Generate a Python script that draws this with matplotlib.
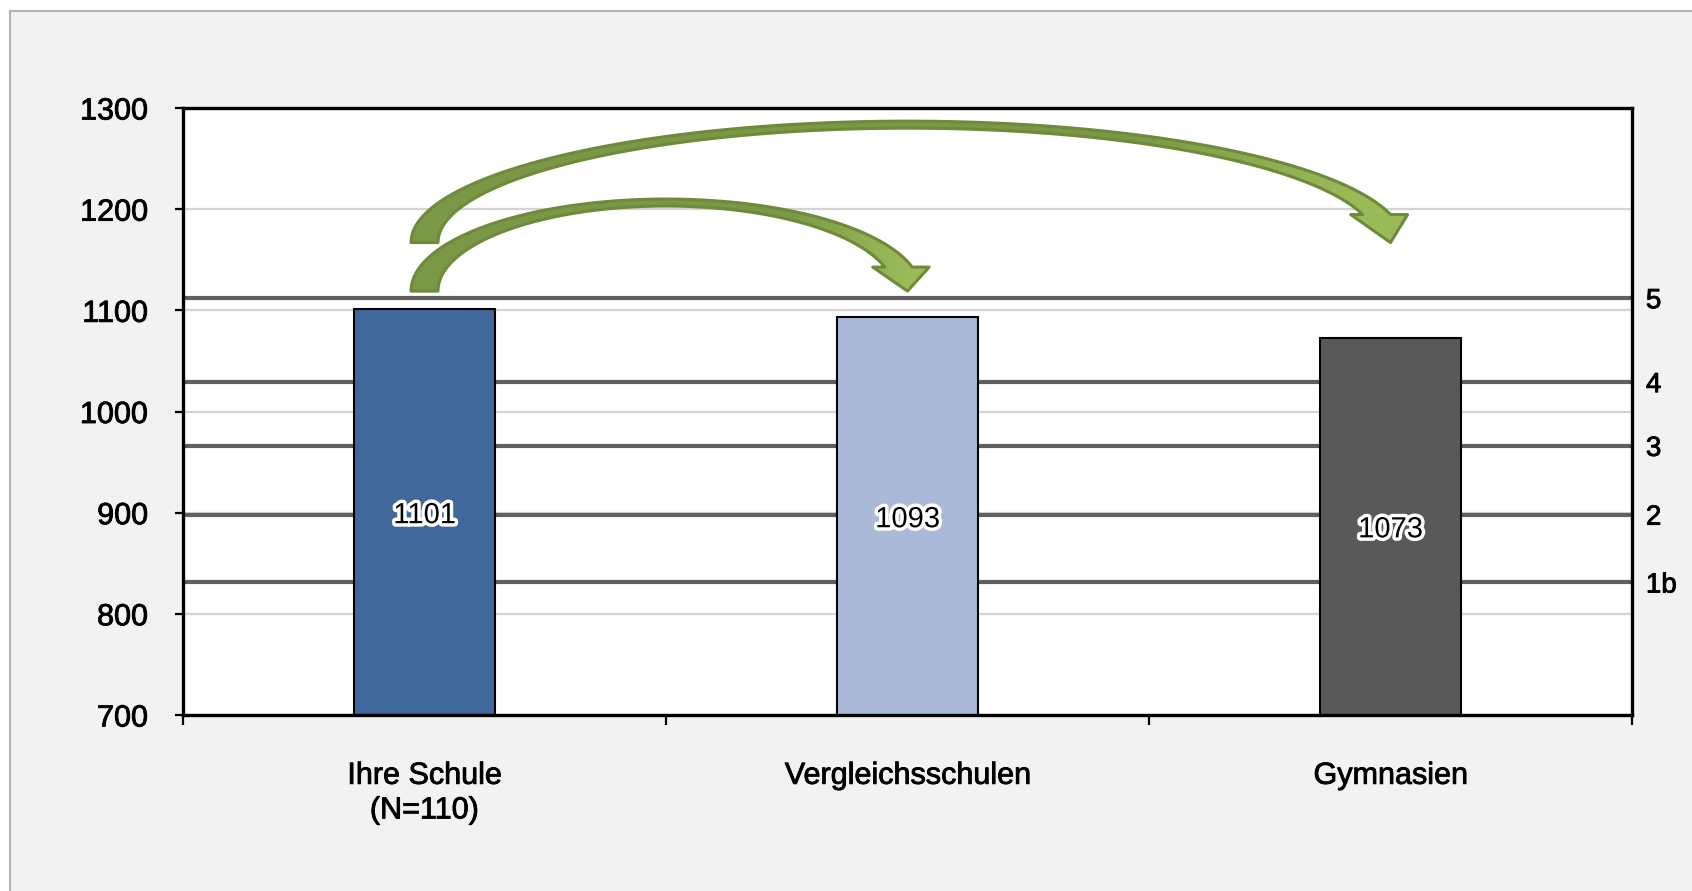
import matplotlib
matplotlib.use("Agg")
import numpy as np
import matplotlib.pyplot as plt
import matplotlib.patheffects as pe
from matplotlib.patches import Polygon, Rectangle
from matplotlib.colors import LinearSegmentedColormap

plt.rcParams['font.family'] = ['Liberation Sans', 'DejaVu Sans']

# Daten
categories = ['Ihre Schule\n(N=110)', 'Vergleichsschulen', 'Gymnasien']
scores = [1101, 1093, 1073]
bar_colors = ['#41689a', '#aab9d8', '#595959']

# Kompetenzstufen (rechte Achse)
level_names = ['1b', '2', '3', '4', '5']
level_limits = [831, 898, 966, 1029, 1112]

y_ticks = [700, 800, 900, 1000, 1100, 1200, 1300]

# Pfeile von "Ihre Schule" zu den Vergleichsgruppen
arrow_to = [2, 1]
arrow_base = [1167, 1119]
arrow_top = [1287, 1210]
arrow_head = [28, 24]

W, H = 1692, 891
fig = plt.figure(figsize=(W / 100, H / 100), dpi=100, facecolor='white')
# grauer Rahmen / Hintergrund
fig.patches.append(Rectangle((10 / W, -0.1), 1.2, 1.1 - 11 / H, transform=fig.transFigure,
                             facecolor='#f2f2f2', edgecolor='#b3b3b3', linewidth=1.5, zorder=-10))

ax = fig.add_axes([183 / W, 176 / H, (1632 - 183) / W, (715 - 108) / H])
ax.set_facecolor('white')

x = np.arange(len(categories))
ax.bar(x, scores, width=0.293, color=bar_colors, edgecolor='black', linewidth=1.5, zorder=3)

ax.set_xlim(-0.5, 2.5)
ax.set_ylim(700, 1300)

# Gitternetz und Stufengrenzen
ax.set_yticks(y_ticks)
ax.yaxis.grid(True, color='#d4d4d4', linewidth=1.6, zorder=0)
ax.set_axisbelow(True)
for v in level_limits:
    ax.axhline(v, color='#5f5f5f', linewidth=3, zorder=2)

# x-Achse: Striche an den Grenzen, Beschriftung in der Mitte
ax.set_xticks([-0.5, 0.5, 1.5, 2.5])
ax.set_xticklabels([])
ax.tick_params(axis='x', which='major', length=7, width=1.6, direction='out')
ax.set_xticks(x, minor=True)
ax.set_xticklabels(categories, minor=True)
ax.tick_params(axis='x', which='minor', length=0, pad=33, labelsize=22)
ax.tick_params(axis='y', length=6, width=1.6, pad=19, labelsize=22, direction='out')

for s in ax.spines.values():
    s.set_linewidth(2.4)
    s.set_color('black')
    s.set_zorder(4)

# Werte in den Balken
for i, v in enumerate(scores):
    ax.text(i, (700 + v) / 2 - 3, str(v), ha='center', va='center', fontsize=21, color='black',
            path_effects=[pe.withStroke(linewidth=5, foreground='white')], zorder=8)

# rechte Achse mit Stufen
ax2 = ax.twinx()
ax2.set_ylim(700, 1300)
ax2.set_yticks(level_limits)
ax2.set_yticklabels(level_names)
ax2.tick_params(axis='y', length=0, pad=10, labelsize=20)
for s in ax2.spines.values():
    s.set_visible(False)

# Schrift etwas kräftiger wie im Original
thick = [pe.withStroke(linewidth=0.6, foreground='black')]
for lab in ax.get_yticklabels() + ax.get_xticklabels(minor=True) + ax2.get_yticklabels():
    lab.set_path_effects(thick)

cmap = LinearSegmentedColormap.from_list(
    'gruen', [(0, '#7a9845'), (0.72, '#7a9845'), (0.95, '#9bbb59'), (1, '#9bbb59')])


def curved_arrow(x0, x1, y_base, y_top, head_h, tail_w=27, top_w=7, head_l=12, head_r=17):
    # Form wie Excel "Gebogener Pfeil nach unten", in Pixeln berechnet
    px = ax.transData.transform([(x0, y_base), (x1, y_base), (x0, y_top)])
    px0, pb = px[0]
    px1 = px[1][0]
    pt = px[2][1]
    cx = (px0 + px1) / 2
    a_out = (px1 - px0) / 2 + tail_w / 2
    a_in = a_out - tail_w
    b_out = pt - pb
    b_in = b_out - top_w
    t = np.linspace(np.pi, np.arcsin(head_h / b_out), 120)
    outer = np.c_[cx + a_out * np.cos(t), pb + b_out * np.sin(t)]
    t = np.linspace(np.arcsin(head_h / b_in), np.pi, 120)
    inner = np.c_[cx + a_in * np.cos(t), pb + b_in * np.sin(t)]
    head = np.array([(outer[-1, 0] + head_r, pb + head_h),
                     (px1, pb),
                     (inner[0, 0] - head_l, pb + head_h)])
    pts = ax.transData.inverted().transform(np.vstack([outer, head, inner]))

    poly = Polygon(pts, closed=True, facecolor='none', edgecolor='#6e8a3a',
                   linewidth=2.2, zorder=7, joinstyle='round')
    ax.add_patch(poly)
    grad = np.linspace(0, 1, 256).reshape(1, -1)
    im = ax.imshow(grad, cmap=cmap, aspect='auto', zorder=6,
                   extent=(pts[:, 0].min(), pts[:, 0].max(), pts[:, 1].min(), pts[:, 1].max()))
    im.set_clip_path(poly)


for n, (k, yb, yt, hh) in enumerate(zip(arrow_to, arrow_base, arrow_top, arrow_head)):
    curved_arrow(0, k, yb, yt, hh)

ax.set_xlim(-0.5, 2.5)
ax.set_ylim(700, 1300)

fig.savefig('out.png', dpi=100, facecolor=fig.get_facecolor())
